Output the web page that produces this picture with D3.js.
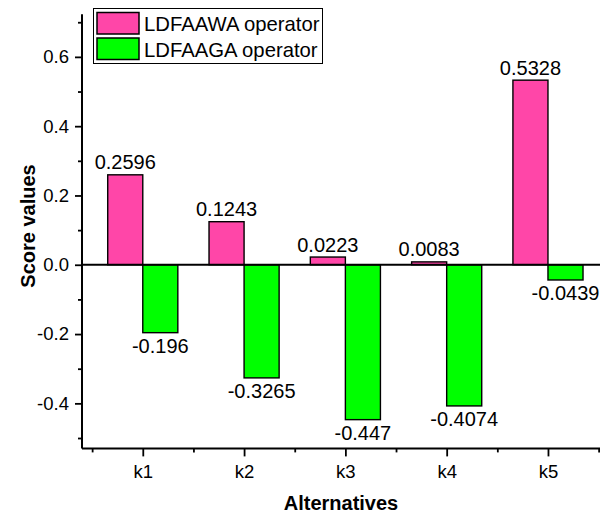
<!DOCTYPE html>
<html><head><meta charset="utf-8">
<script src="https://cdn.jsdelivr.net/npm/d3@7"></script>
<style>
body{margin:0;background:#fff;}
svg{display:block;font-family:"Liberation Sans",Arial,sans-serif;}
</style></head>
<body><svg id="c" width="600" height="516"></svg>
<script>
const categories = ["k1","k2","k3","k4","k5"];
const seriesNames = ["LDFAAWA operator","LDFAAGA operator"];
const ldfaawa = [0.2596, 0.1243, 0.0223, 0.0083, 0.5328];
const ldfaaga = [-0.196, -0.3265, -0.447, -0.4074, -0.0439];
const ldfaawaLabels = ["0.2596","0.1243","0.0223","0.0083","0.5328"];
const ldfaagaLabels = ["-0.196","-0.3265","-0.447","-0.4074","-0.0439"];
const yMajor = [-0.4,-0.2,0.0,0.2,0.4,0.6];
const yMinor = [-0.5,-0.3,-0.1,0.1,0.3,0.5,0.7];
const xMinor = [0.5,1.5,2.5,3.5,4.5,5.5];
const colors = ["#FF46A8","#00FF00"];

const svg = d3.select("#c");
const x = d3.scaleLinear().domain([0.4,5.6]).range([82,608.75]);
const y = d3.scaleLinear().domain([-0.53,0.72]).range([448.4,15.3]);
const bw = 0.346;

const g = svg.append("g");
categories.forEach((c,i)=>{
  const k=i+1;
  const v1=ldfaawa[i], v2=ldfaaga[i];
  g.append("rect").attr("x",x(k-bw)).attr("width",x(k)-x(k-bw))
   .attr("y",y(Math.max(0,v1))).attr("height",Math.abs(y(v1)-y(0)))
   .attr("fill",colors[0]).attr("stroke","#000").attr("stroke-width",1.4);
  g.append("rect").attr("x",x(k)).attr("width",x(k+bw)-x(k))
   .attr("y",y(Math.max(0,v2))).attr("height",Math.abs(y(v2)-y(0)))
   .attr("fill",colors[1]).attr("stroke","#000").attr("stroke-width",1.4);
  g.append("text").attr("x",x(k-bw/2)).attr("y",y(v1)-5.5).attr("text-anchor","middle")
   .attr("font-size",20).text(ldfaawaLabels[i]);
  g.append("text").attr("x",x(k+bw/2)).attr("y",y(v2)+20).attr("text-anchor","middle")
   .attr("font-size",20).text(ldfaagaLabels[i]);
});
svg.append("line").attr("x1",x(0.4)).attr("x2",600).attr("y1",y(0)).attr("y2",y(0))
  .attr("stroke","#000").attr("stroke-width",1.8);

const yAx = svg.append("g").attr("transform",`translate(${x(0.4)},0)`)
  .call(d3.axisLeft(y).tickValues(yMajor).tickSize(7).tickPadding(6).tickFormat(d=>d.toFixed(1)));
const yMin = svg.append("g").attr("transform",`translate(${x(0.4)},0)`)
  .call(d3.axisLeft(y).tickValues(yMinor).tickSize(4).tickFormat(""));
const xAx = svg.append("g").attr("transform",`translate(0,${y(-0.53)})`)
  .call(d3.axisBottom(x).tickValues([1,2,3,4,5]).tickSize(8).tickPadding(8).tickFormat((d,i)=>categories[i]));
const xMin = svg.append("g").attr("transform",`translate(0,${y(-0.53)})`)
  .call(d3.axisBottom(x).tickValues(xMinor).tickSize(4).tickFormat(""));
yMin.select(".domain").remove();
xMin.select(".domain").remove();
yAx.select(".domain").attr("d",`M0,${y(0.72)-1}V${y(-0.53)}`);
xAx.select(".domain").attr("d",`M${x(0.4)},0H600`);
svg.selectAll(".domain").attr("stroke","#000").attr("stroke-width",2);
svg.selectAll(".tick line").attr("stroke","#000").attr("stroke-width",1.8);
svg.selectAll(".tick text").attr("font-size",18.5).attr("fill","#000")
  .attr("font-family","'Liberation Sans',Arial,sans-serif");

svg.append("text").attr("transform",`translate(35,${226}) rotate(-90)`)
  .attr("text-anchor","middle").attr("font-size",20).attr("font-weight","bold").text("Score values");
svg.append("text").attr("x",341).attr("y",510).attr("text-anchor","middle")
  .attr("font-size",20).attr("font-weight","bold").text("Alternatives");

const lg = svg.append("g");
lg.append("rect").attr("x",93.5).attr("y",8.5).attr("width",229).attr("height",55)
  .attr("fill","#fff").attr("stroke","#000").attr("stroke-width",1);
seriesNames.forEach((s,i)=>{
  lg.append("rect").attr("x",97).attr("y",12.5+i*25.5).attr("width",42).attr("height",21.5)
    .attr("fill",colors[i]).attr("stroke","#000").attr("stroke-width",1.5);
  lg.append("text").attr("x",144).attr("y",31+i*25.5).attr("font-size",20.3).text(s);
});
</script></body></html>
